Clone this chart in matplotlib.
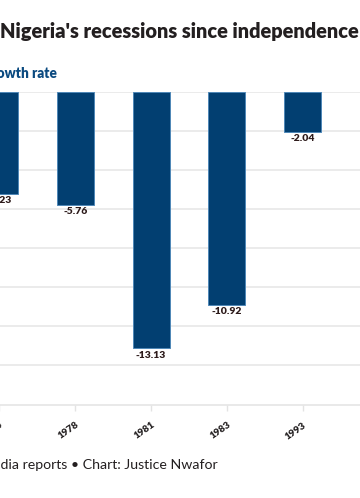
import numpy as np
import matplotlib.pyplot as plt

# data
years = ["1975", "1978", "1981", "1983", "1993", "2016"]
growth = [-5.23, -5.76, -13.13, -10.92, -2.04, -1.62]

W, H = 360, 498
plt.rcParams["font.family"] = ["Lato", "DejaVu Sans"]

fig = plt.figure(figsize=(W / 100, H / 100), dpi=100)


def fx(px):
    return px / W


def fy(py):
    return 1 - py / H


# axes placed so that the picture is a crop of a wider chart
step = 75.8
x0 = -0.5 - 0.5 * step
x1 = x0 + len(years) * step
top, bottom = 92.3, 404.5
ax = fig.add_axes([fx(x0), fy(bottom), (x1 - x0) / W, (bottom - top) / H])

bar_color = "#023f71"
x = np.arange(len(years))
bars = ax.bar(x, growth, width=0.49, color=bar_color, edgecolor="#4f88b8",
              linewidth=0.7, zorder=3)

ax.set_xlim(-0.5, len(years) - 0.5)
ax.set_ylim(-16, 0)
ax.set_yticks(np.arange(-14, 1, 2))
ax.yaxis.grid(True, color="#e6e6e6", linewidth=1.1, zorder=0)
ax.tick_params(axis="y", length=0, labelleft=False)
for s in ["top", "right", "left"]:
    ax.spines[s].set_visible(False)
ax.spines["bottom"].set_color("#e3e3e3")
ax.spines["bottom"].set_linewidth(1.1)

ax.set_xticks(x)
ax.set_xticklabels(years, rotation=35, ha="right", va="top",
                   rotation_mode="anchor", fontsize=7.2, fontweight="heavy",
                   color="#231f20")
ax.tick_params(axis="x", length=4, width=1, color="#e3e3e3", pad=7.5)

for xi, v in zip(x, growth):
    ax.annotate(f"{v:.2f}", (xi, v), xytext=(0, -1.5), textcoords="offset points",
                ha="center", va="top", fontsize=7.5, fontweight="heavy",
                color="#2d1b1b")

fig.text(fx(358.5), fy(38), "Nigeria's recessions since independence",
         ha="right", va="baseline", fontsize=14.4, fontweight="heavy",
         color="#231f20")
fig.text(fx(57), fy(78), "GDP growth rate", ha="right", va="baseline",
         fontsize=9.8, fontweight="heavy", color="#0b4a80")
fig.text(fx(218), fy(469), "Source: Media reports \u2022 Chart: Justice Nwafor",
         ha="right", va="baseline", fontsize=10.2, color="#231f20")

fig.savefig("out.png", dpi=100)
